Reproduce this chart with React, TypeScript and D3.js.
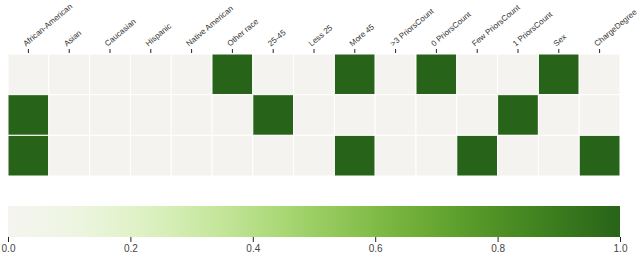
import React, { useEffect, useRef } from "react";
import * as d3 from "d3";

const columns = [
  "African-American",
  "Asian",
  "Caucasian",
  "Hispanic",
  "Native American",
  "Other race",
  "25-45",
  "Less 25",
  "More 45",
  ">3 PriorsCount",
  "0 PriorsCount",
  "Few PriorsCount",
  "1 PriorsCount",
  "Sex",
  "ChargeDegree",
];

const rows = ["r0", "r1", "r2"];

// one value per column, per row
const row0 = [0, 0, 0, 0, 0, 1, 0, 0, 1, 0, 1, 0, 0, 1, 0];
const row1 = [1, 0, 0, 0, 0, 0, 1, 0, 0, 0, 0, 0, 1, 0, 0];
const row2 = [1, 0, 0, 0, 0, 0, 0, 0, 1, 0, 0, 1, 0, 0, 1];

const legendTicks = [0, 0.2, 0.4, 0.6, 0.8, 1.0];

const color = (t: number) => d3.interpolatePiYG(0.5 + 0.5 * t);

export default function App() {
  const ref = useRef<SVGSVGElement>(null);

  useEffect(() => {
    const svg = d3.select(ref.current);
    svg.selectAll("*").remove();

    const left = 8;
    const right = 620;
    const top = 54;
    const bottom = 176;

    const cells = [row0, row1, row2].flatMap((vals, r) =>
      vals.map((v, c) => ({ row: rows[r], col: columns[c], value: v }))
    );

    const x = d3.scaleBand().domain(columns).range([left, right]);
    const y = d3.scaleBand().domain(rows).range([top, bottom]);

    // cells
    svg.append("g")
      .selectAll("rect")
      .data(cells)
      .join("rect")
      .attr("x", (d) => x(d.col)!)
      .attr("y", (d) => y(d.row)!)
      .attr("width", x.bandwidth())
      .attr("height", y.bandwidth())
      .attr("fill", (d) => color(d.value))
      .attr("stroke", "white")
      .attr("stroke-width", 1);

    // column axis
    const xAxis = svg.append("g")
      .attr("transform", `translate(0, ${top - 1})`)
      .call(d3.axisTop(x).tickSize(4).tickPadding(3));
    xAxis.select(".domain").remove();
    xAxis.selectAll(".tick line").attr("stroke", "#222");
    xAxis.selectAll(".tick text")
      .attr("font-family", "Liberation Sans, Arial, sans-serif")
      .attr("font-size", 8)
      .attr("fill", "#333")
      .attr("text-anchor", "start")
      .attr("transform", "translate(2, -1) rotate(-40)")
      .attr("dy", "0");

    // legend
    const defs = svg.append("defs");
    const grad = defs.append("linearGradient").attr("id", "legend-grad");
    d3.range(0, 1.0001, 0.05).forEach((t) => {
      grad.append("stop").attr("offset", `${t * 100}%`).attr("stop-color", color(t));
    });

    const lx = d3.scaleLinear().domain([0, 1]).range([left, right]);
    const legTop = 206;
    const legBottom = 237;

    svg.append("rect")
      .attr("x", lx(0))
      .attr("y", legTop)
      .attr("width", lx(1) - lx(0))
      .attr("height", legBottom - legTop)
      .attr("fill", "url(#legend-grad)");

    const lAxis = svg.append("g")
      .attr("transform", `translate(0, ${legBottom})`)
      .call(d3.axisBottom(lx).tickValues(legendTicks).tickFormat(d3.format(".1f")).tickSize(5).tickPadding(3));
    lAxis.select(".domain").remove();
    lAxis.selectAll(".tick line").attr("stroke", "#222");
    lAxis.selectAll(".tick text")
      .attr("font-family", "Liberation Sans, Arial, sans-serif")
      .attr("font-size", 10)
      .attr("fill", "#444");
  }, []);

  return (
    <svg
      ref={ref}
      width={640}
      height={255}
      style={{ position: "absolute", left: 0, top: 0 }}
    />
  );
}
